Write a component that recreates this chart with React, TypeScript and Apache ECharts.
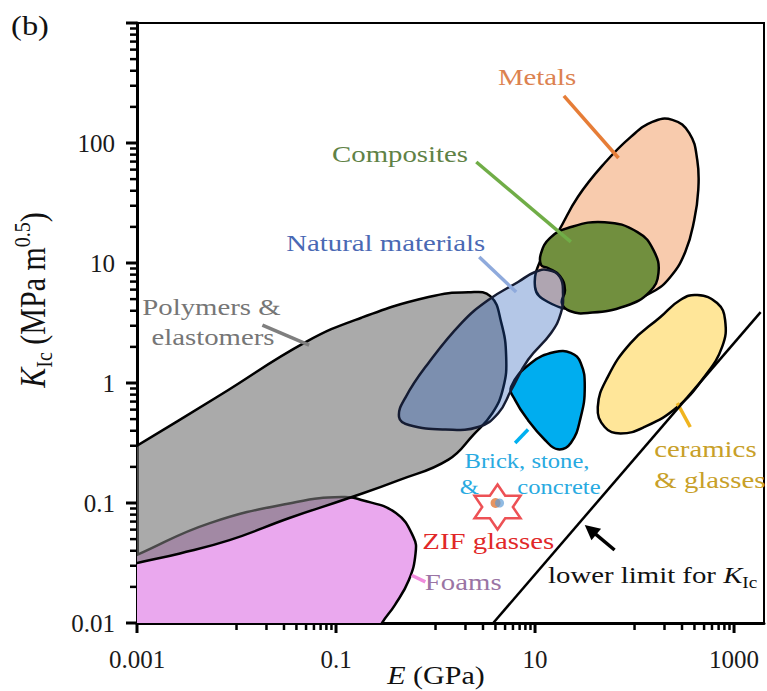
import React, { useEffect, useRef } from 'react';
import * as echarts from 'echarts';

type Pt = [number, number];

// Material-family envelopes as [E (GPa), K_Ic (MPa m^0.5)] outline vertices
const foams: Pt[] = [
  [0.00034, 0.0247], [0.00063, 0.031], [0.001, 0.0369], [0.0054, 0.068], [0.04, 0.102],
  [0.115, 0.112], [0.18, 0.106], [0.4, 0.0825], [0.6, 0.052], [0.63, 0.038],
  [0.54, 0.0228], [0.39, 0.0141], [0.29, 0.01], [0.224, 0.0066], [0.00034, 0.0066],
];
const polymers: Pt[] = [
  [0.00034, 0.175], [0.00063, 0.24], [0.001, 0.3], [0.0068, 0.79], [0.05, 2.2],
  [0.18, 3.5], [0.85, 5.2], [2.14, 5.7], [3.55, 5.3], [4.57, 3.2], [5.13, 1.65],
  [4.79, 0.91], [3.72, 0.56], [2.4, 0.37], [1.35, 0.23], [0.43, 0.155], [0.135, 0.11],
  [0.034, 0.075], [0.0085, 0.049], [0.0027, 0.038], [0.001, 0.0316], [0.00063, 0.0287],
  [0.00034, 0.0251],
];
const metals: Pt[] = [
  [10, 6.31], [12, 11.7], [17, 18.1], [26.9, 35.5], [50.1, 68.1], [91.2, 112], [151, 150],
  [240, 156], [355, 121], [427, 72.1], [437, 40.6], [398, 22.8], [324, 12.4], [229, 7.64],
  [151, 5.73], [67.6, 4.38], [26.9, 4.06], [13.5, 4.73],
];
const composites: Pt[] = [
  [11.5, 12.1], [14.1, 16.1], [21.4, 19.6], [50.1, 21.9], [107, 18.1], [155, 12.8],
  [174, 8.25], [141, 5.73], [81.3, 4.38], [33.9, 3.83], [22.4, 3.98], [18.6, 4.64],
  [20, 5.96], [17.8, 7.8], [13.5, 9.09], [11.5, 9.62],
];
const naturalMaterials: Pt[] = [
  [0.43, 0.52], [0.5, 0.76], [0.85, 1.47], [1.82, 3.16], [3.39, 4.92], [6.76, 6.95],
  [10, 8.41], [13.5, 8.74], [17.8, 7.64], [19.1, 5.62], [18.2, 3.83], [14.5, 2.61],
  [8.51, 1.56], [5.75, 0.87], [4.27, 0.56], [2.69, 0.43], [1.26, 0.41], [0.54, 0.447],
];
const brickStoneConcrete: Pt[] = [
  [5.75, 0.93], [9.12, 1.47], [15.8, 1.81], [22.9, 1.78], [28.8, 1.47], [31.6, 0.93],
  [28.8, 0.52], [22.9, 0.316], [17, 0.28], [12.6, 0.335], [8.51, 0.49], [6.31, 0.72],
];
const ceramicsGlasses: Pt[] = [
  [427, 5.41], [676, 4.64], [813, 3.35], [759, 2.0], [501, 1.12], [269, 0.63],
  [126, 0.43], [72.4, 0.38], [50.1, 0.43], [42.7, 0.63], [53.7, 1.12], [91.2, 2.15],
  [182, 3.55], [288, 4.92],
];

// ZIF glass point and the K_Ic lower-bound line
const zifGlass: Pt[] = [[4.2, 0.1]];
const lowerLimit: Pt[] = [[3.8, 0.01], [1850, 3.9]];

// Leader lines from labels to envelopes
const leaderStart: Pt[] = [
  [19.5, 247], [2.57, 69.5], [2.75, 11.2], [0.0182, 3.04], [8.51, 0.41], [269, 0.68], [0.575, 0.025],
];
const leaderEnd: Pt[] = [
  [69, 75], [22.9, 15], [6.46, 5.73], [0.0537, 2.07], [6.31, 0.316], [363, 0.43], [0.79, 0.022],
];
const arrowTail: Pt = [63, 0.0406];
const arrowHead: Pt = [31.6, 0.0656];

// Axis ticks and labels
const X_MIN = 0.001;
const X_MAX = 2000;
const Y_MIN = 0.01;
const Y_MAX = 1000;
const xLabelValues = [0.001, 0.1, 10, 1000];
const xLabelTexts = ['0.001', '0.1', '10', '1000'];
const yLabelValues = [0.01, 0.1, 1, 10, 100];
const yLabelTexts = ['0.01', '0.1', '1', '10', '100'];
const xMajorTicks = [0.001, 0.1, 10, 1000];
const xMinorTicks = [
  0.01, 0.02, 0.03, 0.04, 0.05, 0.06, 0.07, 0.08, 0.09,
  1, 2, 3, 4, 5, 6, 7, 8, 9,
  100, 200, 300, 400, 500, 600, 700, 800, 900,
];
const yMajorTicks = [0.01, 0.1, 1, 10, 100, 1000];
const yMinorTicks = [
  0.02, 0.03, 0.04, 0.05, 0.06, 0.07, 0.08, 0.09,
  0.2, 0.3, 0.4, 0.5, 0.6, 0.7, 0.8, 0.9,
  2, 3, 4, 5, 6, 7, 8, 9,
  20, 30, 40, 50, 60, 70, 80, 90,
  200, 300, 400, 500, 600, 700, 800, 900,
];

const SERIF = '"Liberation Serif", "Times New Roman", serif';
const STRETCH = 1.2;

const regions = [
  { points: foams, fill: '#EAA8EE', stroke: '#000' },
  { points: polymers, fill: 'rgba(118,118,118,0.62)', stroke: '#000' },
  { points: metals, fill: '#F8CBAD', stroke: '#000' },
  { points: composites, fill: '#718F3E', stroke: '#000' },
  { points: brickStoneConcrete, fill: '#00ADEF', stroke: '#000' },
  { points: ceramicsGlasses, fill: '#FFE699', stroke: '#000' },
  { points: naturalMaterials, fill: 'rgba(35,91,185,0.34)', stroke: '#151c33' },
];

const leaderColors = ['#E67D37', '#70AD47', '#8FAADC', '#7F7F7F', '#00B0F0', '#F0B41E', '#F08CDC'];

const annotations = [
  { text: 'Metals', at: [10.5, 355] as Pt, color: '#DC8250', size: 24, align: 'center' },
  { text: 'Composites', at: [0.44, 81] as Pt, color: '#5F8246', size: 24, align: 'center' },
  { text: 'Natural materials', at: [0.316, 14.7] as Pt, color: '#4A69B4', size: 24, align: 'center' },
  { text: 'Polymers &', at: [0.0056, 4.3] as Pt, color: '#767676', size: 24, align: 'center' },
  { text: 'elastomers', at: [0.0058, 2.42] as Pt, color: '#767676', size: 24, align: 'center' },
  { text: 'Brick, stone,', at: [8.3, 0.224] as Pt, color: '#28AAE1', size: 20.5, align: 'center' },
  { text: '&', at: [2.19, 0.136] as Pt, color: '#28AAE1', size: 20.5, align: 'center' },
  { text: 'concrete', at: [17.4, 0.136] as Pt, color: '#28AAE1', size: 20.5, align: 'center' },
  { text: 'ceramics', at: [158, 0.28] as Pt, color: '#C8A028', size: 24, align: 'left' },
  { text: '& glasses', at: [158, 0.155] as Pt, color: '#C8A028', size: 24, align: 'left' },
  { text: 'ZIF glasses', at: [3.39, 0.048] as Pt, color: '#E12828', size: 24, align: 'center' },
  { text: 'Foams', at: [1.9, 0.022] as Pt, color: '#9A74A4', size: 24, align: 'center' },
];
const lowerLimitLabelAt: Pt = [13.5, 0.025];

const STAR_PATH =
  'path://M0,-100L28.87,-50L86.6,-50L57.74,0L86.6,50L28.87,50L0,100L-28.87,50L-86.6,50L-57.74,0L-86.6,-50L-28.87,-50Z';

const labelFormatter = (values: number[], texts: string[]) => (v: number) => {
  const i = values.findIndex((t) => Math.abs(Math.log10(v) - Math.log10(t)) < 1e-6);
  return i >= 0 ? texts[i] : '';
};

const regionSeries = (r: (typeof regions)[number]) => ({
  type: 'custom',
  coordinateSystem: 'cartesian2d',
  clip: true,
  silent: true,
  data: r.points,
  renderItem: (params: any, api: any) => {
    if (params.dataIndex !== 0) return null;
    return {
      type: 'polygon',
      shape: { points: r.points.map((p) => api.coord(p)), smooth: 0.45 },
      style: { fill: r.fill, stroke: r.stroke, lineWidth: 2.5 },
    };
  },
});

const tickSeries = (data: Pt[], dx: number, dy: number, width: number) => ({
  type: 'custom',
  coordinateSystem: 'cartesian2d',
  silent: true,
  z: 5,
  data,
  renderItem: (_params: any, api: any) => {
    const p = api.coord([api.value(0), api.value(1)]);
    return {
      type: 'line',
      shape: { x1: p[0], y1: p[1], x2: p[0] + dx, y2: p[1] + dy },
      style: { stroke: '#000', lineWidth: width },
    };
  },
});

export default function App() {
  const ref = useRef<HTMLDivElement>(null);

  useEffect(() => {
    if (!ref.current) return;
    const chart = echarts.init(ref.current, undefined, { renderer: 'svg' });

    const option: any = {
      animation: false,
      backgroundColor: '#fff',
      grid: {
        left: 137, right: 1, top: 23, bottom: 68,
        show: true, borderColor: '#000', borderWidth: 2, backgroundColor: 'transparent',
      },
      xAxis: {
        type: 'log', logBase: 10, min: X_MIN, max: X_MAX,
        axisLine: { show: true, onZero: false, lineStyle: { color: '#000', width: 3 } },
        axisTick: { show: false },
        splitLine: { show: false },
        axisLabel: {
          formatter: labelFormatter(xLabelValues, xLabelTexts),
          fontFamily: SERIF, fontSize: 25, color: '#1a1a1a', margin: 24,
        },
      },
      yAxis: {
        type: 'log', logBase: 10, min: Y_MIN, max: Y_MAX,
        axisLine: { show: true, onZero: false, lineStyle: { color: '#000', width: 3 } },
        axisTick: { show: false },
        splitLine: { show: false },
        axisLabel: {
          formatter: labelFormatter(yLabelValues, yLabelTexts),
          fontFamily: SERIF, fontSize: 25, color: '#1a1a1a', margin: 22,
        },
      },
      graphic: [
        {
          type: 'text', x: 30, y: 25, scaleX: STRETCH,
          style: { text: '(b)', font: `27px ${SERIF}`, fill: '#111', align: 'center', verticalAlign: 'middle' },
        },
        {
          type: 'text', x: 436, y: 675, scaleX: STRETCH,
          style: {
            text: '{i|E}{n| (GPa)}', align: 'center', verticalAlign: 'middle',
            rich: {
              i: { fontFamily: SERIF, fontSize: 25, fontStyle: 'italic', fill: '#111' },
              n: { fontFamily: SERIF, fontSize: 25, fill: '#111' },
            },
          },
        },
        {
          type: 'text', x: 33, y: 300, rotation: Math.PI / 2, scaleY: STRETCH,
          style: {
            text: '{k|K}{s|Ic}{n| (MPa m}{p|0.5}{n|)}', align: 'center', verticalAlign: 'middle',
            rich: {
              k: { fontFamily: SERIF, fontSize: 30, fontStyle: 'italic', fill: '#111', lineHeight: 38, verticalAlign: 'middle' },
              s: { fontFamily: SERIF, fontSize: 20, fill: '#111', lineHeight: 38, verticalAlign: 'bottom' },
              n: { fontFamily: SERIF, fontSize: 30, fill: '#111', lineHeight: 38, verticalAlign: 'middle' },
              p: { fontFamily: SERIF, fontSize: 20, fill: '#111', lineHeight: 38, verticalAlign: 'top' },
            },
          },
        },
      ],
      series: [
        ...regions.map(regionSeries),
        {
          type: 'line',
          data: lowerLimit,
          showSymbol: false,
          symbol: 'none',
          silent: true,
          lineStyle: { color: '#000', width: 2.5 },
          z: 4,
        },
        {
          type: 'custom',
          coordinateSystem: 'cartesian2d',
          silent: true,
          z: 4,
          data: leaderStart.map((s, i) => [s[0], s[1], leaderEnd[i][0], leaderEnd[i][1]]),
          renderItem: (params: any, api: any) => {
            const a = api.coord([api.value(0), api.value(1)]);
            const b = api.coord([api.value(2), api.value(3)]);
            return {
              type: 'line',
              shape: { x1: a[0], y1: a[1], x2: b[0], y2: b[1] },
              style: { stroke: leaderColors[params.dataIndex], lineWidth: 3.5 },
            };
          },
        },
        {
          type: 'custom',
          coordinateSystem: 'cartesian2d',
          silent: true,
          z: 4,
          data: [[arrowTail[0], arrowTail[1], arrowHead[0], arrowHead[1]]],
          renderItem: (_params: any, api: any) => {
            const t = api.coord([api.value(0), api.value(1)]);
            const h = api.coord([api.value(2), api.value(3)]);
            const dx = h[0] - t[0];
            const dy = h[1] - t[1];
            const len = Math.hypot(dx, dy);
            const ux = dx / len;
            const uy = dy / len;
            const headLen = 15;
            const half = 7.5;
            const bx = h[0] - ux * headLen;
            const by = h[1] - uy * headLen;
            return {
              type: 'group',
              children: [
                {
                  type: 'line',
                  shape: { x1: t[0], y1: t[1], x2: bx + ux * 2, y2: by + uy * 2 },
                  style: { stroke: '#000', lineWidth: 3.5 },
                },
                {
                  type: 'polygon',
                  shape: {
                    points: [
                      [h[0], h[1]],
                      [bx - uy * half, by + ux * half],
                      [bx + uy * half, by - ux * half],
                    ],
                  },
                  style: { fill: '#000' },
                },
              ],
            };
          },
        },
        {
          type: 'scatter',
          data: zifGlass,
          symbol: STAR_PATH,
          symbolSize: [46, 45],
          symbolOffset: [0, 4],
          silent: true,
          z: 6,
          itemStyle: { color: 'rgba(255,255,255,0)', borderColor: '#E8262A', borderWidth: 2.5 },
        },
        {
          type: 'scatter',
          data: zifGlass,
          symbol: 'circle',
          symbolSize: 10,
          symbolOffset: [-2, 0],
          silent: true,
          z: 6,
          itemStyle: { color: '#E07B39' },
        },
        {
          type: 'scatter',
          data: zifGlass,
          symbol: 'circle',
          symbolSize: 9,
          symbolOffset: [2, 0],
          silent: true,
          z: 6,
          itemStyle: { color: 'rgba(91,155,213,0.85)' },
        },
        {
          type: 'custom',
          coordinateSystem: 'cartesian2d',
          silent: true,
          z: 7,
          data: annotations.map((a) => a.at),
          renderItem: (params: any, api: any) => {
            const a = annotations[params.dataIndex];
            const p = api.coord([api.value(0), api.value(1)]);
            return {
              type: 'text',
              x: p[0],
              y: p[1],
              scaleX: STRETCH,
              style: {
                text: a.text,
                fill: a.color,
                fontFamily: SERIF,
                fontSize: a.size,
                align: a.align,
                verticalAlign: 'middle',
              },
            };
          },
        },
        {
          type: 'custom',
          coordinateSystem: 'cartesian2d',
          silent: true,
          z: 7,
          data: [lowerLimitLabelAt],
          renderItem: (_params: any, api: any) => {
            const p = api.coord([api.value(0), api.value(1)]);
            return {
              type: 'text',
              x: p[0],
              y: p[1],
              scaleX: STRETCH,
              style: {
                text: '{n|lower limit for }{k|K}{s|Ic}',
                align: 'left',
                verticalAlign: 'middle',
                rich: {
                  n: { fontFamily: SERIF, fontSize: 24, fill: '#111', lineHeight: 30, verticalAlign: 'middle' },
                  k: { fontFamily: SERIF, fontSize: 24, fontStyle: 'italic', fill: '#111', lineHeight: 30, verticalAlign: 'middle' },
                  s: { fontFamily: SERIF, fontSize: 16, fill: '#111', lineHeight: 30, verticalAlign: 'bottom' },
                },
              },
            };
          },
        },
        tickSeries(xMajorTicks.map((v) => [v, Y_MIN] as Pt), 0, 10, 3),
        tickSeries(xMinorTicks.map((v) => [v, Y_MIN] as Pt), 0, 7, 2.5),
        tickSeries(yMajorTicks.map((v) => [X_MIN, v] as Pt), -11, 0, 3),
        tickSeries(yMinorTicks.map((v) => [X_MIN, v] as Pt), -7, 0, 2.5),
      ],
    };

    chart.setOption(option);
    return () => chart.dispose();
  }, []);

  return (
    <div
      ref={ref}
      style={{ position: 'absolute', left: 0, top: 0, width: 767, height: 691, background: '#fff' }}
    />
  );
}
